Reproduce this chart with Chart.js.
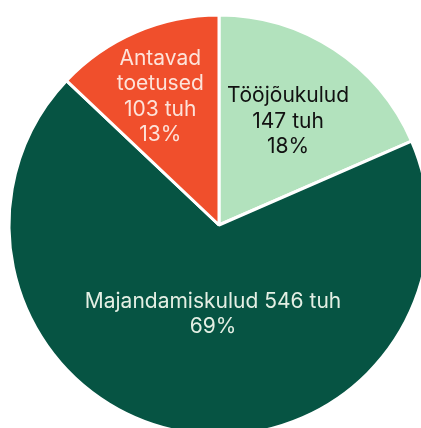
<!DOCTYPE html>
<html>
<head>
<meta charset="utf-8">
<script src="https://cdn.jsdelivr.net/npm/chart.js@4"></script>
<style>
  html, body { margin: 0; padding: 0; background: #fff; overflow: hidden; width: 421px; height: 428px; }
  #wrap { position: absolute; left: 0; top: 0; width: 438px; height: 450px; }
</style>
</head>
<body>
<div id="wrap"><canvas id="kulud"></canvas></div>
<script>
// Kulude jaotus (tuh eurot)
const kategooriad = ['Tööjõukulud', 'Majandamiskulud', 'Antavad toetused'];
const summad = [147, 546, 103];
const protsendid = [18, 69, 13];
const varvid = ['#b2e2bd', '#065443', '#f04f2c'];
const tekstiVarvid = ['#111111', '#e4efe4', '#fde3da'];

// sildi read iga sektori jaoks
const sildid = [
    ['Tööjõukulud', summad[0] + ' tuh', protsendid[0] + '%'],
    ['Majandamiskulud ' + summad[1] + ' tuh', protsendid[1] + '%'],
    ['Antavad', 'toetused', summad[2] + ' tuh', protsendid[2] + '%']
];

// kus silt sektoris asub (osa raadiusest, nurga nihe kraadides)
const sildiAsend = [
    { r: 0.6, nurk: 0 },
    { r: 0.415, nurk: -6 },
    { r: 0.68, nurk: -1 }
];

const siltidePlugin = {
    id: 'sildid',
    afterDatasetsDraw(chart) {
        const ctx = chart.ctx;
        const meta = chart.getDatasetMeta(0);
        ctx.save();
        ctx.font = '21px Inter, "Noto Sans", sans-serif';
        ctx.textAlign = 'center';
        ctx.textBaseline = 'middle';
        meta.data.forEach((arc, i) => {
            const p = arc.getProps(['x', 'y', 'startAngle', 'endAngle', 'outerRadius'], true);
            const a = (p.startAngle + p.endAngle) / 2 + sildiAsend[i].nurk * Math.PI / 180;
            const r = p.outerRadius * sildiAsend[i].r;
            const cx = p.x + Math.cos(a) * r;
            const cy = p.y + Math.sin(a) * r;
            const read = sildid[i];
            const reaKorgus = 25.5;
            ctx.fillStyle = tekstiVarvid[i];
            read.forEach((rida, j) => {
                ctx.fillText(rida, cx, cy + 2 + (j - (read.length - 1) / 2) * reaKorgus);
            });
        });
        ctx.restore();
    }
};

const ctxKulud = document.getElementById('kulud').getContext('2d');
const graafik = new Chart(ctxKulud, {
    type: 'pie',
    data: {
        labels: kategooriad,
        datasets: [{
            data: summad,
            backgroundColor: varvid,
            borderColor: '#ffffff',
            borderWidth: 3
        }]
    },
    options: {
        responsive: true,
        maintainAspectRatio: false,
        animation: false,
        layout: {
            padding: { left: 7.5, right: 7.5, top: 12.5, bottom: 12.5 }
        },
        plugins: {
            legend: { display: false },
            tooltip: { enabled: false }
        }
    },
    plugins: [siltidePlugin]
});
</script>
</body>
</html>
